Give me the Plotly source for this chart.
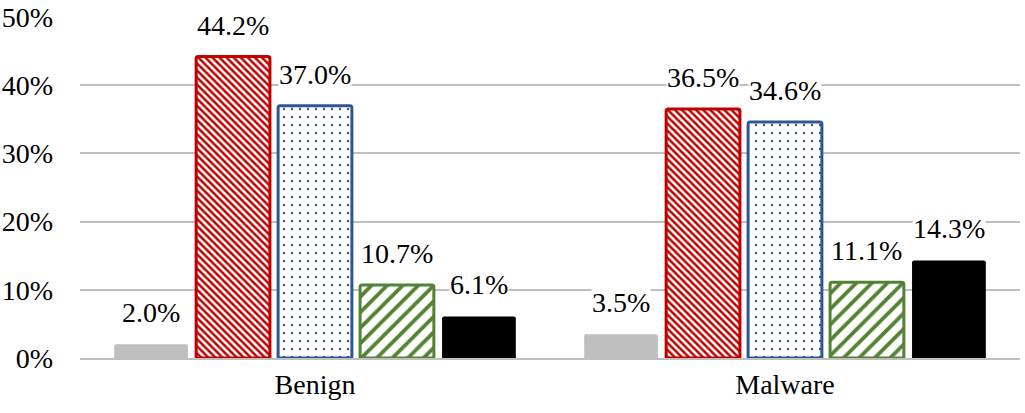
import plotly.graph_objects as go

categories = ["Benign", "Malware"]
series_names = ["Series 1", "Series 2", "Series 3", "Series 4", "Series 5"]
values = [
    [2.0, 3.5],
    [44.2, 36.5],
    [37.0, 34.6],
    [10.7, 11.1],
    [6.1, 14.3],
]
y_ticks = [0, 10, 20, 30, 40, 50]
y_tick_labels = [f"{t}%" for t in y_ticks]

colors = ["#BFBFBF", "#C00000", "#2F5597", "#548235", "#000000"]
patterns = [
    dict(shape=""),
    dict(shape="\\", size=5, solidity=0.5, bgcolor="white", fillmode="replace"),
    dict(shape=".", size=8, solidity=0.07, bgcolor="white", fillmode="replace"),
    dict(shape="/", size=11, solidity=0.35, bgcolor="white", fillmode="replace"),
    dict(shape=""),
]
line_w = [0, 3, 3, 3, 0]

FONT = "Liberation Serif"
BARGAP = 0.128
n = len(series_names)

fig = go.Figure()
for i, name in enumerate(series_names):
    fig.add_trace(go.Bar(
        x=categories, y=values[i], name=name,
        marker=dict(color=colors[i], pattern=patterns[i],
                    line=dict(color=colors[i], width=line_w[i]),
                    cornerradius=2),
        showlegend=False,
    ))

slot = (1 - BARGAP) / n
annotations = []
for i in range(n):
    for j, cat in enumerate(categories):
        v = values[i][j]
        annotations.append(dict(
            x=j + (i - (n - 1) / 2) * slot, y=v, xref="x", yref="y",
            text=f"{v:.1f}%", showarrow=False, yanchor="bottom", yshift=15,
            bgcolor="white", borderpad=0,
            font=dict(family=FONT, size=28, color="black"),
        ))

fig.update_layout(
    width=1025, height=413,
    margin=dict(l=80, r=5, t=17, b=55),
    paper_bgcolor="white", plot_bgcolor="white",
    barmode="group", bargap=BARGAP, bargroupgap=0.1,
    font=dict(family=FONT, size=28, color="black"),
    annotations=annotations,
    xaxis=dict(type="category", showline=True, linecolor="#BFBFBF", linewidth=2,
               ticks="", tickfont=dict(family=FONT, size=28), ticklabelstandoff=0,
               automargin=False),
    yaxis=dict(range=[0, 50], tickvals=y_ticks, ticktext=y_tick_labels, showgrid=True,
               gridcolor="#BFBFBF", gridwidth=2, zeroline=False, showline=False,
               tickfont=dict(family=FONT, size=28), ticklabelstandoff=26,
               automargin=False),
)

fig.write_html("out.html")
